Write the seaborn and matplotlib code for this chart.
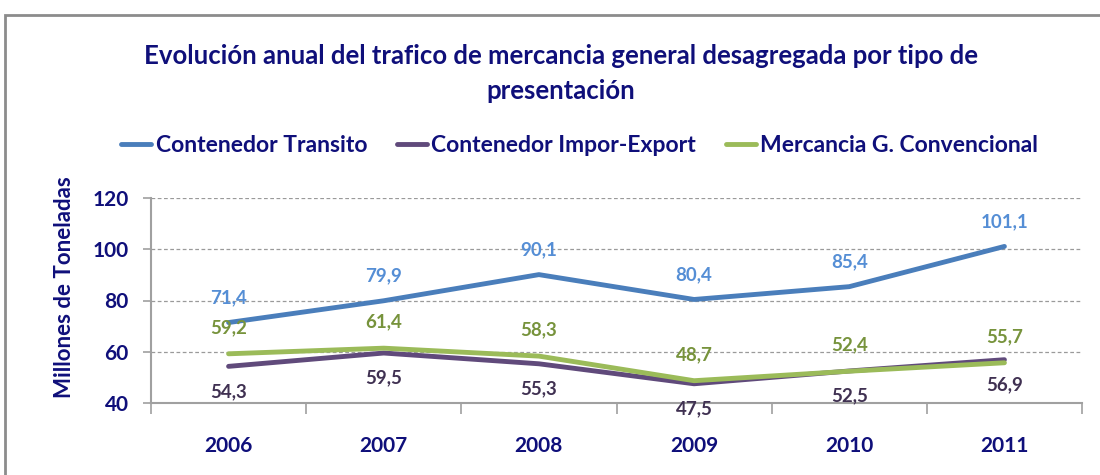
import pandas as pd
import numpy as np
import matplotlib.pyplot as plt
import seaborn as sns
from matplotlib.patches import Rectangle

# datos
anios = ['2006', '2007', '2008', '2009', '2010', '2011']
transito = [71.4, 79.9, 90.1, 80.4, 85.4, 101.1]
impor_export = [54.3, 59.5, 55.3, 47.5, 52.5, 56.9]
convencional = [59.2, 61.4, 58.3, 48.7, 52.4, 55.7]
series = ['Contenedor Transito', 'Contenedor Impor-Export', 'Mercancia G. Convencional']

navy = '#0F0F7A'
line_colors = ['#4A7EBB', '#604A7B', '#9BBB59']
label_colors = ['#558ED5', '#403152', '#77933C']
label_offsets = [18, -18, 19]  # puntos, arriba/abajo de la linea

df = pd.DataFrame({
    'pos': list(range(len(anios))) * 3,
    'valor': transito + impor_export + convencional,
    'serie': [s for s in series for _ in anios],
})

sns.set_style('white')
plt.rcParams['font.family'] = ['Lato', 'DejaVu Sans']

fig = plt.figure(figsize=(11, 4.75), dpi=100)
ax = fig.add_axes([151 / 1100, 1 - 403 / 475, (1082 - 151) / 1100, (403 - 198) / 475])

sns.lineplot(data=df, x='pos', y='valor', hue='serie', hue_order=series,
             palette=line_colors, linewidth=3.5, errorbar=None, legend=False, ax=ax)

# etiquetas de datos
for vals, col, off in zip([transito, impor_export, convencional], label_colors, label_offsets):
    for i, v in enumerate(vals):
        ax.annotate(f'{v:.1f}'.replace('.', ','), (i, v), xytext=(0, off),
                    textcoords='offset points', ha='center', va='center',
                    fontsize=13.5, fontweight='bold', color=col)

ax.set_xlim(-0.5, len(anios) - 0.5)
ax.set_ylim(40, 120)
ax.set_yticks([40, 60, 80, 100, 120])
ax.set_xticks(range(len(anios)))
ax.set_xticklabels(anios)
ax.set_xticks(np.arange(-0.5, len(anios)), minor=True)
ax.tick_params(axis='x', which='major', length=0, pad=24, labelsize=15, labelcolor=navy)
ax.tick_params(axis='x', which='minor', length=8, width=1.2, color='#A0A0A0', direction='out', bottom=True)
ax.tick_params(axis='y', length=6, width=1.2, color='#A0A0A0', left=True, pad=10,
               labelsize=15, labelcolor=navy)
for lab in ax.get_xticklabels() + ax.get_yticklabels():
    lab.set_fontweight('bold')

for y in [60, 80, 100, 120]:
    ax.axhline(y, color='#9A9A9A', linestyle=(0, (3, 2)), linewidth=0.9, zorder=0)

for side in ['top', 'right']:
    ax.spines[side].set_visible(False)
for side in ['left', 'bottom']:
    ax.spines[side].set_color('#A0A0A0')
    ax.spines[side].set_linewidth(1.5)

ax.set_xlabel('')
ax.set_ylabel('Millones de Toneladas', fontsize=16, fontweight='bold', color=navy)
ax.yaxis.set_label_coords(-0.082, 0.566)

fig.text(0.51, 1 - 56 / 475, 'Evolución anual del trafico de mercancia general desagregada por tipo de',
         ha='center', va='center', fontsize=18.5, fontweight='bold', color=navy)
fig.text(0.51, 1 - 91 / 475, 'presentación',
         ha='center', va='center', fontsize=18.5, fontweight='bold', color=navy)

leg = fig.legend(ax.get_lines()[:3], series, loc='center', bbox_to_anchor=(0.527, 1 - 146 / 475),
                 ncol=3, frameon=False, handlelength=1.3, handletextpad=0.2, columnspacing=1.3,
                 prop={'size': 16.5, 'weight': 'bold'})
for t in leg.get_texts():
    t.set_color(navy)

# marco exterior del grafico
fig.patches.append(Rectangle((5 / 1100, -0.05), 1.2, 1 - 15 / 475 + 0.05, transform=fig.transFigure,
                             fill=False, edgecolor='#8C8C8C', linewidth=2))

fig.savefig('out.png', dpi=100)
